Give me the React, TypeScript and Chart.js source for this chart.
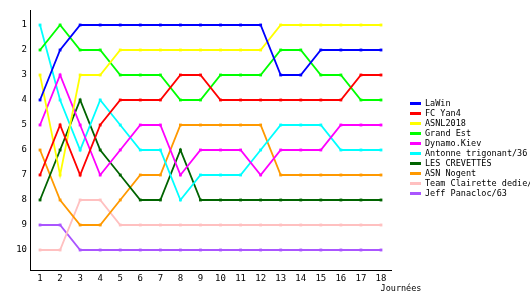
import React, { useEffect, useRef } from "react";
import { Chart, registerables } from "chart.js";

Chart.register(...registerables);

const journees = ["1","2","3","4","5","6","7","8","9","10","11","12","13","14","15","16","17","18"];
const rankTicks = [1, 2, 3, 4, 5, 6, 7, 8, 9, 10];

const teamNames = [
  "LaWin",
  "FC Yan4",
  "ASNL2018",
  "Grand Est",
  "Dynamo.Kiev",
  "Antonne trigonant/36",
  "LES CREVETTES",
  "ASN Nogent",
  "Team Clairette dedie/",
  "Jeff Panacloc/63",
];

const teamColors = [
  "#0000ff",
  "#ff0000",
  "#ffff00",
  "#00ff00",
  "#ff00ff",
  "#00ffff",
  "#006400",
  "#ff9900",
  "#ffc0c0",
  "#aa55ff",
];

const laWin = [4, 2, 1, 1, 1, 1, 1, 1, 1, 1, 1, 1, 3, 3, 2, 2, 2, 2];
const fcYan4 = [7, 5, 7, 5, 4, 4, 4, 3, 3, 4, 4, 4, 4, 4, 4, 4, 3, 3];
const asnl2018 = [3, 7, 3, 3, 2, 2, 2, 2, 2, 2, 2, 2, 1, 1, 1, 1, 1, 1];
const grandEst = [2, 1, 2, 2, 3, 3, 3, 4, 4, 3, 3, 3, 2, 2, 3, 3, 4, 4];
const dynamoKiev = [5, 3, 5, 7, 6, 5, 5, 7, 6, 6, 6, 7, 6, 6, 6, 5, 5, 5];
const antonne = [1, 4, 6, 4, 5, 6, 6, 8, 7, 7, 7, 6, 5, 5, 5, 6, 6, 6];
const crevettes = [8, 6, 4, 6, 7, 8, 8, 6, 8, 8, 8, 8, 8, 8, 8, 8, 8, 8];
const asnNogent = [6, 8, 9, 9, 8, 7, 7, 5, 5, 5, 5, 5, 7, 7, 7, 7, 7, 7];
const clairette = [10, 10, 8, 8, 9, 9, 9, 9, 9, 9, 9, 9, 9, 9, 9, 9, 9, 9];
const panacloc = [9, 9, 10, 10, 10, 10, 10, 10, 10, 10, 10, 10, 10, 10, 10, 10, 10, 10];

const seriesValues = [laWin, fcYan4, asnl2018, grandEst, dynamoKiev, antonne, crevettes, asnNogent, clairette, panacloc];

const FONT = "'DejaVu Sans Mono', monospace";

const legendPlugin = {
  id: "customLegend",
  afterDraw(chart: any) {
    const ctx = chart.ctx;
    ctx.save();
    ctx.font = `8.5px ${FONT}`;
    ctx.textBaseline = "middle";
    ctx.textAlign = "left";
    chart.data.datasets.forEach((ds: any, i: number) => {
      const y = 103 + i * 10;
      ctx.fillStyle = ds.borderColor;
      ctx.fillRect(410, y - 1, 11, 3);
      ctx.fillStyle = "#000";
      ctx.fillText(ds.label, 425, y + 0.5);
    });
    ctx.textAlign = "center";
    ctx.fillText("Journées", 401, 289);
    ctx.restore();
  },
};

export default function App() {
  const ref = useRef<HTMLCanvasElement | null>(null);
  useEffect(() => {
    document.body.style.margin = "0";
    document.body.style.background = "#fff";
    if (!ref.current) return;
    Chart.defaults.font.family = FONT;
    Chart.defaults.font.size = 9;
    Chart.defaults.color = "#000";
    const chart = new Chart(ref.current, {
      type: "line",
      data: {
        labels: journees,
        datasets: teamNames.map((name, i) => ({
          label: name,
          data: seriesValues[i],
          borderColor: teamColors[i],
          backgroundColor: teamColors[i],
          borderWidth: 1.8,
          pointStyle: "rect",
          pointRadius: 2,
          pointBorderWidth: 0,
          tension: 0,
          fill: false,
        })),
      },
      options: {
        animation: false,
        responsive: false,
        maintainAspectRatio: false,
        devicePixelRatio: 1,
        layout: { padding: { top: 10, right: 139, left: 0, bottom: 0 } },
        plugins: { legend: { display: false }, tooltip: { enabled: false } },
        scales: {
          x: {
            type: "category",
            offset: true,
            grid: { display: false, drawTicks: false },
            border: { display: true, color: "#000", width: 1 },
            ticks: { padding: 3, maxRotation: 0, autoSkip: false, font: { size: 9, family: FONT } },
            afterFit(scale: any) {
              scale.height = 30;
            },
          },
          y: {
            type: "linear",
            reverse: true,
            min: 0.4,
            max: 10.8,
            grid: { display: false, drawTicks: false },
            border: { display: true, color: "#000", width: 1 },
            ticks: { padding: 3, font: { size: 9, family: FONT } },
            afterBuildTicks(scale: any) {
              scale.ticks = rankTicks.map((v) => ({ value: v }));
            },
            afterFit(scale: any) {
              scale.width = 30;
            },
          },
        },
      },
      plugins: [legendPlugin],
    });
    return () => chart.destroy();
  }, []);
  return <canvas ref={ref} width={530} height={300} style={{ display: "block" }} />;
}
